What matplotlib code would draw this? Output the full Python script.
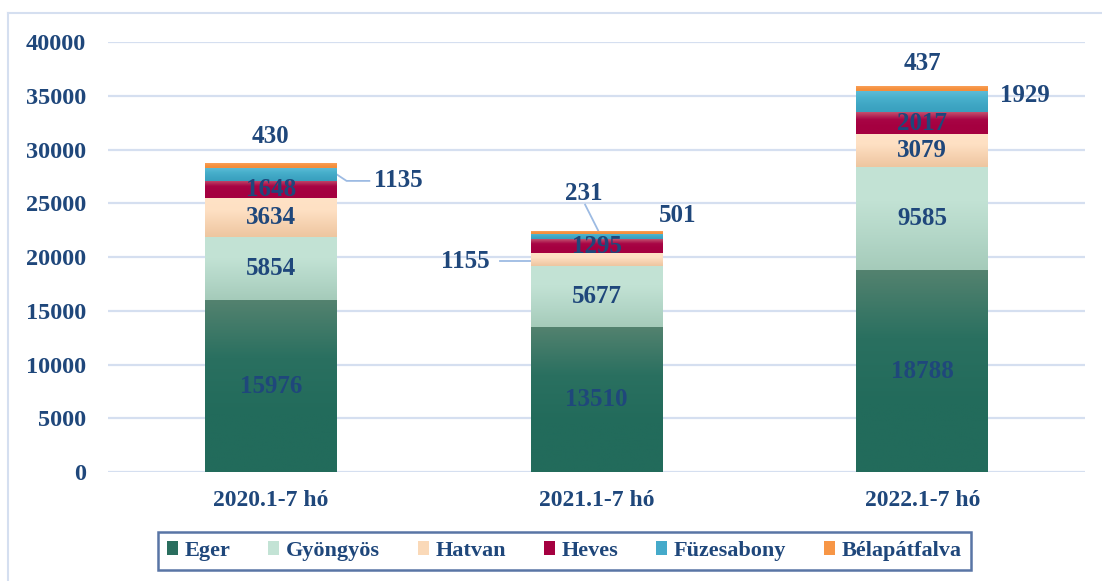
import numpy as np
import matplotlib.pyplot as plt
from matplotlib.colors import LinearSegmentedColormap
from matplotlib.patches import Patch
from matplotlib.lines import Line2D

categories = ['2020.1-7 hó', '2021.1-7 hó', '2022.1-7 hó']
series = ['Eger', 'Gyöngyös', 'Hatvan', 'Heves', 'Füzesabony', 'Bélapátfalva']
eger = [15976, 13510, 18788]
gyongyos = [5854, 5677, 9585]
hatvan = [3634, 1155, 3079]
heves = [1648, 1295, 2017]
fuzesabony = [1135, 501, 1929]
belapatfalva = [430, 231, 437]
values = [eger, gyongyos, hatvan, heves, fuzesabony, belapatfalva]

# gradient stops, top to bottom
grads = [
    ['#53826F', '#2A7060', '#226B5B', '#226B5B'],
    ['#C3E3D5', '#C2E2D4', '#B4D7C8', '#A5CBBA'],
    ['#FFE2C6', '#FEE0C3', '#F6D2B1', '#EEC6A0'],
    ['#C2506E', '#A80545', '#A50040', '#A50040'],
    ['#5CBBD6', '#48B0CC', '#3FA6C4', '#38A0BE'],
    ['#F9A05A', '#F79646', '#F48E3C', '#F48E3C'],
]
legend_colors = ['#2A6E5E', '#C3E3D5', '#FAD9B8', '#A50040', '#45AACA', '#F79646']

txt = '#1F477B'
plt.rcParams['font.family'] = ['Liberation Serif', 'DejaVu Serif']
plt.rcParams['font.weight'] = 'bold'

fig = plt.figure(figsize=(11.02, 5.81), dpi=100)
ax = fig.add_axes([0.098, 0.1876, 0.8866, 0.7401])

x = np.arange(len(categories))
w = 0.405
bottom = np.zeros(3)
grad_img = np.linspace(0, 1, 100).reshape(-1, 1)
for vals, g in zip(values, grads):
    cmap = LinearSegmentedColormap.from_list('g', g)
    b = ax.bar(x, vals, w, bottom=bottom, color=g[-1], zorder=2, linewidth=0)
    for rect in b:
        x0, y0 = rect.get_x(), rect.get_y()
        ax.imshow(grad_img, cmap=cmap, aspect='auto', zorder=3,
                  extent=[x0, x0 + rect.get_width(), y0, y0 + rect.get_height()],
                  origin='upper', interpolation='bilinear')
    bottom = bottom + np.array(vals)

ax.set_xlim(-0.5, 2.5)
ax.set_ylim(0, 40000)
ax.set_yticks(range(0, 40001, 5000))
ax.set_xticks(x)
ax.set_xticklabels(categories)
ax.grid(axis='y', color='#D5DFF0', linewidth=1.6, zorder=0)
ax.set_axisbelow(True)
for s in ax.spines.values():
    s.set_visible(False)
ax.tick_params(length=0, labelcolor=txt, labelsize=17.5)
ax.tick_params(axis='y', pad=16)
ax.tick_params(axis='x', pad=13, labelsize=17)

fs = 18
cum = np.cumsum(np.array(values), axis=0)
for si in range(4):
    for ci in range(3):
        if si == 2 and ci == 1:
            continue
        mid = cum[si][ci] - values[si][ci] / 2
        ax.text(x[ci], mid, str(values[si][ci]), ha='center', va='center',
                color=txt, fontsize=fs, zorder=5)

totals = cum[-1]
hw = w / 2
lc = '#9DBBE3'
# Bélapátfalva
ax.text(x[0], totals[0] + 2500, str(belapatfalva[0]), ha='center', va='center', color=txt, fontsize=fs)
ax.text(x[2], totals[2] + 2200, str(belapatfalva[2]), ha='center', va='center', color=txt, fontsize=fs)
ax.text(x[1] - 0.04, totals[1] + 3500, str(belapatfalva[1]), ha='center', va='center', color=txt, fontsize=fs)
ax.add_line(Line2D([x[1] - 0.035, x[1] + 0.005], [totals[1] + 2500, totals[1] + 100],
                   color=lc, linewidth=1.3))
# Füzesabony
f0 = cum[4][0] - fuzesabony[0] / 2
ax.text(x[0] + hw + 0.115, f0 - 600, str(fuzesabony[0]), ha='left', va='center', color=txt, fontsize=fs)
ax.add_line(Line2D([x[0] + hw, x[0] + hw + 0.03, x[0] + hw + 0.1], [f0, f0 - 600, f0 - 600],
                   color=lc, linewidth=1.3))
f1 = cum[4][1] - fuzesabony[1] / 2
ax.text(x[1] + hw - 0.01, f1 + 2000, str(fuzesabony[1]), ha='left', va='center', color=txt, fontsize=fs)
f2 = cum[4][2] - fuzesabony[2] / 2
ax.text(x[2] + hw + 0.035, f2 + 600, str(fuzesabony[2]), ha='left', va='center', color=txt, fontsize=fs)
# Hatvan 2021
h1 = cum[2][1] - hatvan[1] / 2
ax.text(x[1] - hw - 0.125, h1 - 200, str(hatvan[1]), ha='right', va='center', color=txt, fontsize=fs)
ax.add_line(Line2D([x[1] - hw - 0.095, x[1] - hw], [h1 - 100, h1 - 100],
                   color=lc, linewidth=1.3))

handles = [Patch(facecolor=c, label=s) for c, s in zip(legend_colors, series)]
leg = fig.legend(handles=handles, loc='center', bbox_to_anchor=(0.512, 0.0516),
                 ncol=6, frameon=True, fontsize=16, handlelength=0.5, handleheight=0.55,
                 handletextpad=0.3, columnspacing=1.7, borderpad=0.4, fancybox=False,
                 labelcolor=txt)
leg.get_frame().set_edgecolor('#2F528F')
leg.get_frame().set_linewidth(1.8)

# chart area border
fig.add_artist(Line2D([8 / 1102, 1], [1 - 13 / 581, 1 - 13 / 581], color='#D5DFF0', linewidth=1.5))
fig.add_artist(Line2D([8 / 1102, 8 / 1102], [0, 1 - 13 / 581], color='#D5DFF0', linewidth=1.5))

fig.savefig('out.png', dpi=100)
